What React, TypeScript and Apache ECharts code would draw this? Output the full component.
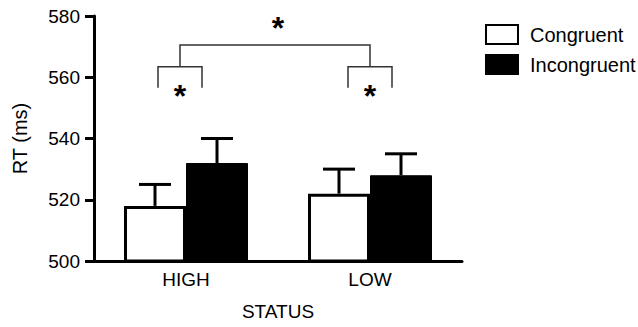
import React, { useEffect, useRef } from "react";
import * as echarts from "echarts";

const categories = ["HIGH", "LOW"];
const seriesNames = ["Congruent", "Incongruent"];
const congruentMeans = [518, 522];
const incongruentMeans = [532, 528];
const congruentErr = [7, 8];
const incongruentErr = [8, 7];
const yTicks = { min: 500, max: 580, interval: 20 };

// significance annotations (data units)
const smallBracketTop = 563.4;
const smallBracketBottom = 556.6;
const bigBracketY = 570.5;
const smallStarY = 554.0;
const bigStarY = 576.2;

const FONT = "'Liberation Sans', Arial, Helvetica, sans-serif";
const BAR_W = 62;

export default function App() {
  const ref = useRef<HTMLDivElement>(null);
  useEffect(() => {
    if (!ref.current) return;
    const chart = echarts.init(ref.current, undefined, { renderer: "svg" });

    const errData: number[][] = [];
    categories.forEach((_, i) => {
      errData.push([i, congruentMeans[i], congruentErr[i], -1]);
      errData.push([i, incongruentMeans[i], incongruentErr[i], 1]);
    });

    const option: any = {
      animation: false,
      textStyle: { fontFamily: FONT },
      grid: { left: 94, top: 16, width: 368, height: 245 },
      legend: {
        orient: "vertical",
        left: 485,
        top: 24,
        padding: 0,
        itemWidth: 32,
        itemHeight: 19,
        itemGap: 9,
        icon: "rect",
        data: seriesNames,
        textStyle: { fontSize: 20, color: "#000", fontFamily: FONT, padding: [0, 0, 0, 7] },
      },
      xAxis: {
        type: "category",
        data: categories,
        name: "STATUS",
        nameLocation: "middle",
        nameGap: 41,
        nameTextStyle: { fontSize: 19, color: "#000", fontFamily: FONT },
        axisLine: { lineStyle: { color: "#000", width: 3 } },
        axisTick: { show: false },
        axisLabel: { fontSize: 19, color: "#000", margin: 9, fontFamily: FONT },
      },
      yAxis: {
        type: "value",
        min: yTicks.min,
        max: yTicks.max,
        interval: yTicks.interval,
        name: "RT (ms)",
        nameLocation: "middle",
        nameGap: 64,
        nameRotate: 90,
        nameTextStyle: { fontSize: 20, color: "#000", fontFamily: FONT },
        axisLine: { show: true, lineStyle: { color: "#000", width: 3 } },
        axisTick: { show: true, length: 9, lineStyle: { color: "#000", width: 3 } },
        axisLabel: { fontSize: 19, color: "#000", margin: 14, fontFamily: FONT },
        splitLine: { show: false },
      },
      series: [
        {
          name: seriesNames[0],
          type: "bar",
          data: congruentMeans,
          barWidth: BAR_W,
          barGap: "0%",
          itemStyle: { color: "#fff", borderColor: "#000", borderWidth: 3 },
          z: 2,
        },
        {
          name: seriesNames[1],
          type: "bar",
          data: incongruentMeans,
          barWidth: BAR_W,
          barGap: "0%",
          itemStyle: { color: "#000", borderColor: "#000", borderWidth: 1 },
          z: 2,
        },
        {
          type: "custom",
          name: "err",
          z: 3,
          data: errData,
          renderItem: (params: any, api: any) => {
            const c = api.value(0);
            const m = api.value(1);
            const e = api.value(2);
            const s = api.value(3);
            const base = api.coord([c, m]);
            const top = api.coord([c, m + e]);
            const x = base[0] + (s * BAR_W) / 2;
            const style = { stroke: "#000", lineWidth: 3 };
            return {
              type: "group",
              children: [
                { type: "line", shape: { x1: x, y1: base[1], x2: x, y2: top[1] }, style },
                { type: "line", shape: { x1: x - 16, y1: top[1], x2: x + 16, y2: top[1] }, style },
              ],
            };
          },
        },
        {
          type: "custom",
          name: "sig",
          z: 4,
          data: [[0, 1]],
          renderItem: (params: any, api: any) => {
            const style = { stroke: "#333", lineWidth: 1.5, fill: null };
            const children: any[] = [];
            const centers: number[] = [];
            const shift = [-6, 0];
            [0, 1].forEach((ci) => {
              const t = api.coord([ci, smallBracketTop]);
              const b = api.coord([ci, smallBracketBottom]);
              const cx = t[0] + shift[ci];
              centers.push(cx);
              children.push({
                type: "polyline",
                shape: { points: [[cx - 22, b[1]], [cx - 22, t[1]], [cx + 22, t[1]], [cx + 22, b[1]]] },
                style,
              });
              const st = api.coord([ci, smallStarY]);
              children.push({
                type: "text",
                style: { text: "*", x: cx, y: st[1], align: "center", verticalAlign: "middle", font: "bold 32px " + FONT, fill: "#000" },
              });
            });
            const ty = api.coord([0, smallBracketTop])[1];
            const by = api.coord([0, bigBracketY])[1];
            children.push({
              type: "polyline",
              shape: { points: [[centers[0], ty], [centers[0], by], [centers[1], by], [centers[1], ty]] },
              style,
            });
            const bs = api.coord([0, bigStarY]);
            children.push({
              type: "text",
              style: { text: "*", x: (centers[0] + centers[1]) / 2 + 3, y: bs[1], align: "center", verticalAlign: "middle", font: "bold 32px " + FONT, fill: "#000" },
            });
            return { type: "group", children };
          },
        },
      ],
    };
    chart.setOption(option);
    return () => chart.dispose();
  }, []);
  return <div ref={ref} style={{ position: "fixed", left: 0, top: 0, width: 638, height: 327, background: "#fff" }} />;
}
